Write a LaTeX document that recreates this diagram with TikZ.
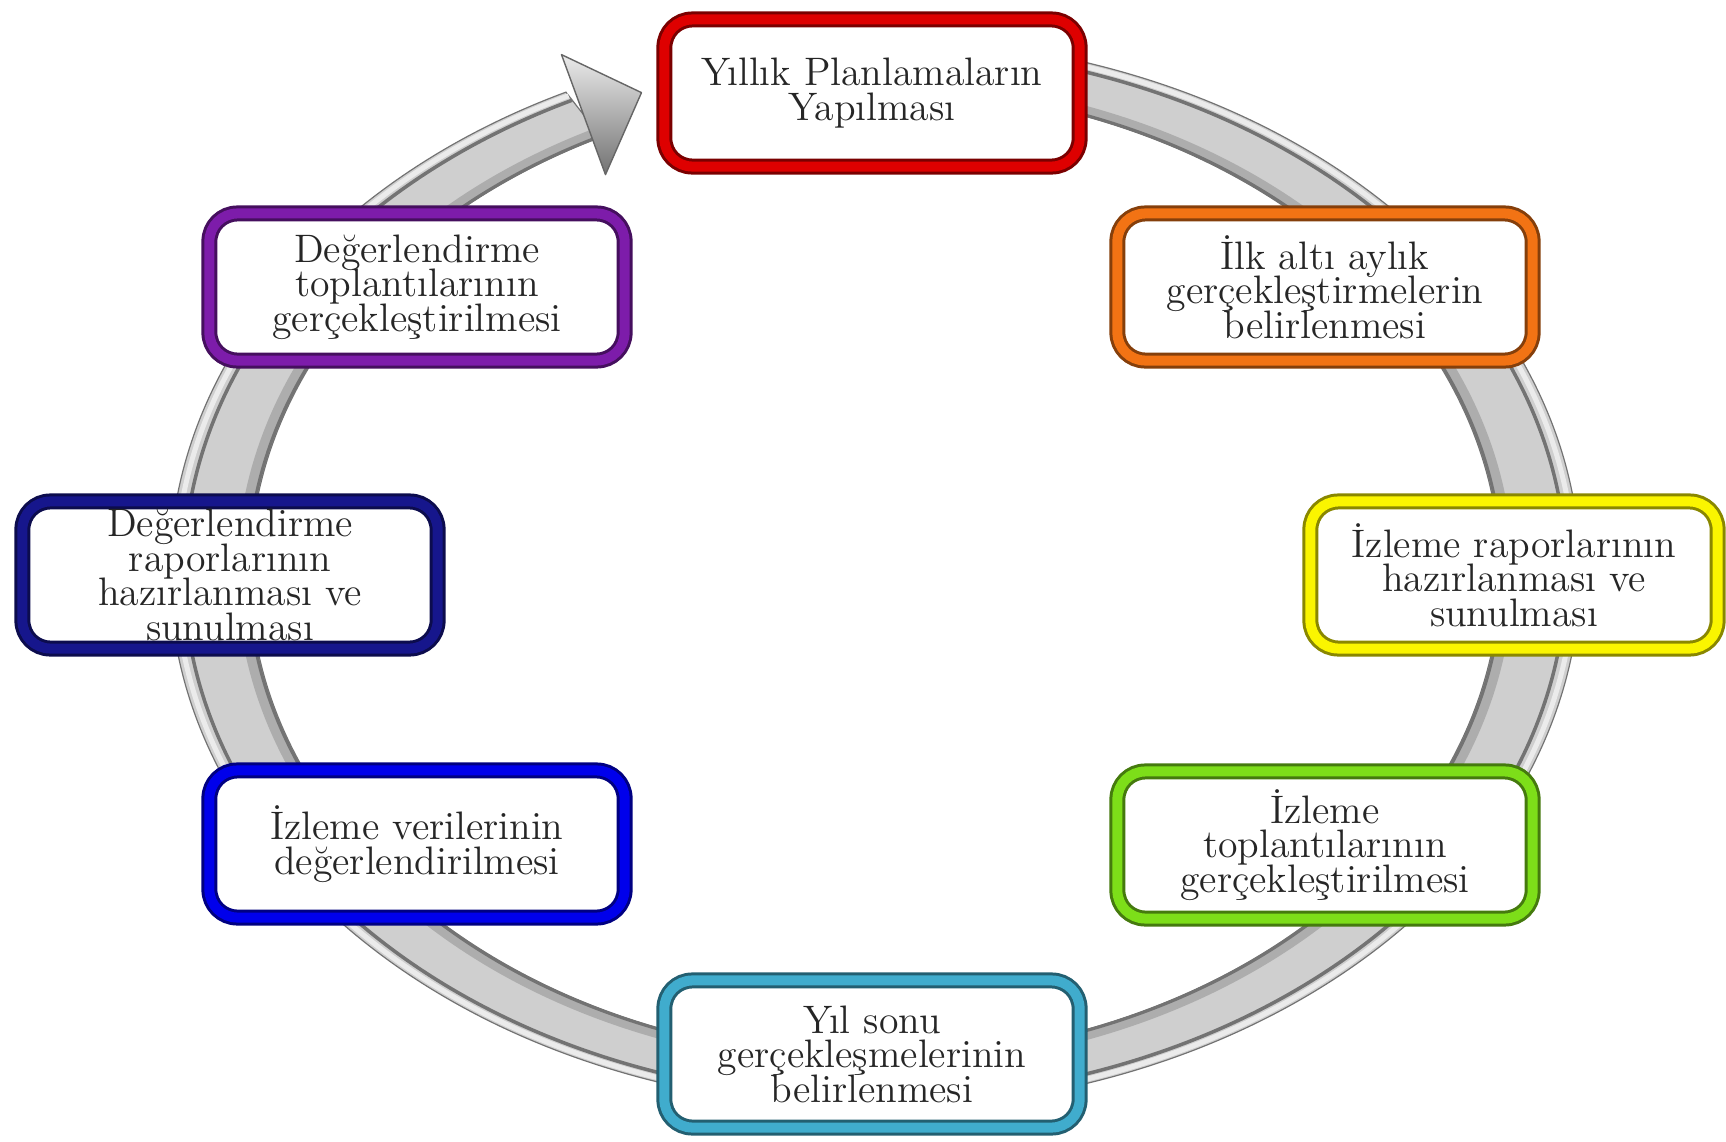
\documentclass[tikz,border=0pt]{standalone}
\usepackage{fontspec}
\usetikzlibrary{calc}
\definecolor{myred}{RGB}{222,0,0}
\definecolor{myorange}{RGB}{242,115,20}
\definecolor{myyellow}{RGB}{250,245,0}
\definecolor{mygreen}{RGB}{125,222,25}
\definecolor{mycyan}{RGB}{64,172,205}
\definecolor{myblue}{RGB}{0,0,235}
\definecolor{mynavy}{RGB}{22,22,140}
\definecolor{mypurple}{RGB}{125,28,170}
\tikzset{
  stepbox/.style={draw=#1!55!black, line width=0.03cm, double=#1, double distance=0.1cm,
    fill=white, rounded corners=0.28cm, minimum width=4.15cm, minimum height=1.47cm,
    inner sep=0pt, align=center, text=black!85,
    font={\fontsize{11.3}{9.8}\selectfont\lineskiplimit=-20pt}}
}

\begin{document}
\begin{tikzpicture}[x=0.01cm, y=0.01cm]
  \useasboundingbox (0,0) rectangle (1726,1141);
  \coordinate (ctr) at (875,568);
  % grey ring: filled band between two ellipses, then stripes
  \filldraw[fill=black!19, draw=black!55, line width=0.012cm]
    ($(ctr)+(75:705 and 535)$) arc[start angle=75, end angle=-244, x radius=705, y radius=535]
    -- ($(ctr)+(-244:625 and 485)$) arc[start angle=-244, end angle=75, x radius=625, y radius=485] -- cycle;
  \foreach \rx/\ry/\w/\c in {699/531/0.05/black!8, 691/526/0.035/black!55, 633/490/0.1/black!32, 627/486/0.03/black!55}
    \draw[line width=\w cm, draw=\c] ($(ctr)+(75:\rx\space and \ry)$) arc[start angle=75, end angle=-244, x radius=\rx, y radius=\ry];
  \coordinate (abase) at ($(ctr)+(116:665 and 510)$);
  \draw[black!60, line join=round, top color=black!8, bottom color=black!55]
    ($(abase)+(-22,60)$) -- ($(abase)+(58,22)$) -- ($(abase)+(22,-60)$) -- cycle;

  \node[stepbox=myred] (plan) at (872,1048) {Yıllık Planlamaların\\Yapılması};
  \node[stepbox=myorange] (alti) at (1325,854) {İlk altı aylık\\gerçekleştirmelerin\\belirlenmesi};
  \node[stepbox=myyellow, minimum width=4.07cm] (izrap) at (1514,566) {İzleme raporlarının\\hazırlanması ve\\sunulması};
  \node[stepbox=mygreen] (iztop) at (1325,296) {İzleme\\toplantılarının\\gerçekleştirilmesi};
  \node[stepbox=mycyan] (yilsonu) at (872,87) {Yıl sonu\\gerçekleşmelerinin\\belirlenmesi};
  \node[stepbox=myblue] (izver) at (417,297) {İzleme verilerinin\\değerlendirilmesi};
  \node[stepbox=mynavy] (degrap) at (230,566) {Değerlendirme\\raporlarının\\hazırlanması ve\\sunulması};
  \node[stepbox=mypurple] (degtop) at (417,854) {Değerlendirme\\toplantılarının\\gerçekleştirilmesi};
\end{tikzpicture}
\end{document}
